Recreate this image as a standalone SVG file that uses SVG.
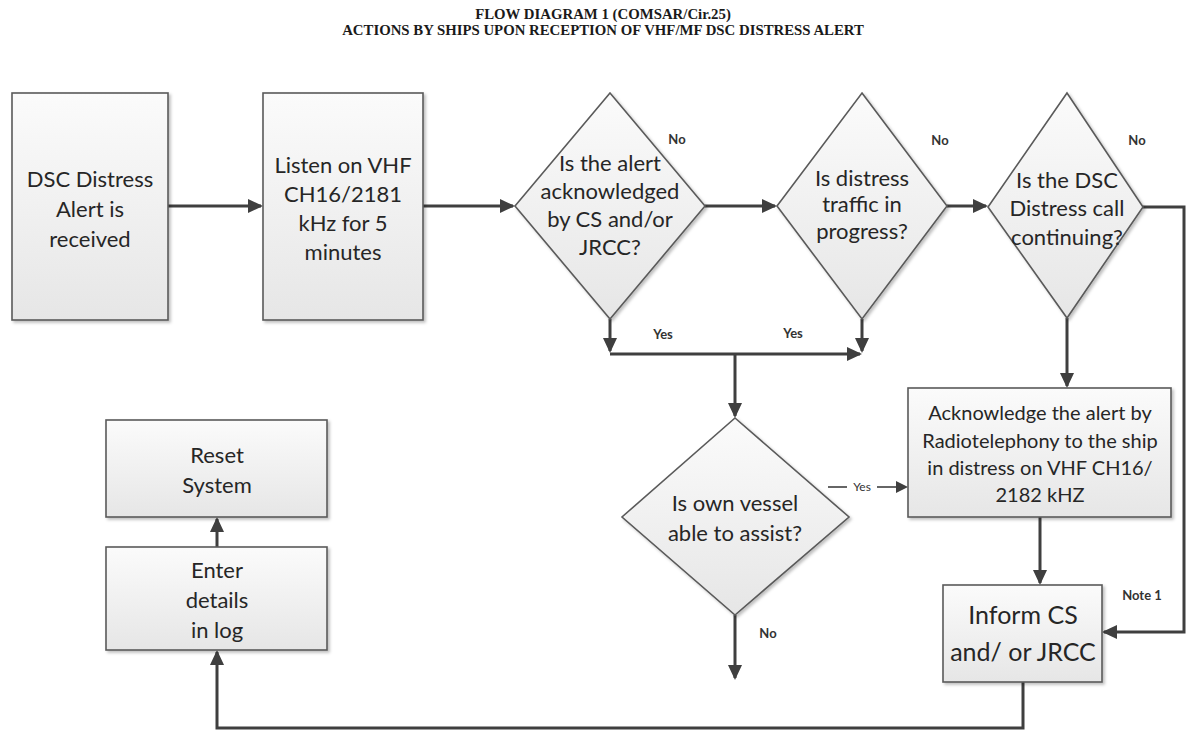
<svg xmlns="http://www.w3.org/2000/svg" width="1187" height="733" viewBox="0 0 1187 733">
  <defs>
    <linearGradient id="shade" x1="0" y1="0" x2="0" y2="1">
      <stop offset="0" stop-color="#fbfbfb"/>
      <stop offset="1" stop-color="#e6e6e6"/>
    </linearGradient>
    <filter id="shadow" x="-10%" y="-10%" width="125%" height="125%">
      <feDropShadow dx="2" dy="2" stdDeviation="1.5" flood-color="#000" flood-opacity="0.25"/>
    </filter>
    <marker id="arrow" markerUnits="userSpaceOnUse" markerWidth="16" markerHeight="14" refX="13" refY="7" orient="auto">
      <path d="M0,0 L15,7 L0,14 z" fill="#3f3f3f"/>
    </marker>
    <marker id="arrowSmall" markerUnits="userSpaceOnUse" markerWidth="12" markerHeight="12" refX="10" refY="6" orient="auto">
      <path d="M0,0 L12,6 L0,12 z" fill="#3f3f3f"/>
    </marker>
  </defs>
  <style>
    .shape { fill: url(#shade); stroke: #5a5a5a; stroke-width: 1.6; filter: url(#shadow); }
    .txt { font-family: Lato, "Noto Sans", sans-serif; font-size: 22px; fill: #262626; text-anchor: middle; }
    .ack { font-size: 20px; }
    .inform { font-size: 25px; }
    .lbl { font-family: Lato, "Noto Sans", sans-serif; font-size: 13px; font-weight: bold; fill: #333; text-anchor: middle; }
    .inline { font-family: Lato, "Noto Sans", sans-serif; font-size: 12px; fill: #333; text-anchor: middle; }
    .title { font-family: "Liberation Serif", "Times New Roman", serif; font-size: 14.8px; font-weight: bold; fill: #1a1a1a; text-anchor: middle; }
    .conn { fill: none; stroke: #3f3f3f; stroke-width: 3; }
    .thin { fill: none; stroke: #3f3f3f; stroke-width: 1.6; }
  </style>

  <rect width="1187" height="733" fill="#ffffff"/>

  <g id="title">
    <text class="title" x="603" y="19">FLOW DIAGRAM 1 (COMSAR/Cir.25)</text>
    <text class="title" x="603" y="35">ACTIONS BY SHIPS UPON RECEPTION OF VHF/MF DSC DISTRESS ALERT</text>
  </g>

  <!-- connectors -->
  <g id="connectors">
    <path class="conn" d="M168,206 H261" marker-end="url(#arrow)"/>
    <path class="conn" d="M423,206 H513" marker-end="url(#arrow)"/>
    <path class="conn" d="M705,206 H775" marker-end="url(#arrow)"/>
    <path class="conn" d="M947,206 H986" marker-end="url(#arrow)"/>
    <path class="conn" d="M1143,207 H1184 V632 H1104" marker-end="url(#arrow)"/>
    <path class="conn" d="M610,319 V351" marker-end="url(#arrow)"/>
    <path class="conn" d="M862,319 V351" marker-end="url(#arrow)"/>
    <path class="conn" d="M610,354 H860" marker-end="url(#arrow)"/>
    <path class="conn" d="M735,354 V416" marker-end="url(#arrow)"/>
    <path class="thin" d="M828,487 H847"/>
    <path class="thin" d="M877,487 H906" marker-end="url(#arrowSmall)"/>
    <path class="conn" d="M735,615 V678" marker-end="url(#arrow)"/>
    <path class="conn" d="M1067,318 V386" marker-end="url(#arrow)"/>
    <path class="conn" d="M1040,517 V583" marker-end="url(#arrow)"/>
    <path class="conn" d="M1023,682 V728 H217 V652" marker-end="url(#arrow)"/>
    <path class="conn" d="M217,547 V519" marker-end="url(#arrow)"/>
  </g>

  <g id="alert-received">
    <rect class="shape" x="12" y="93" width="156" height="227"/>
    <text class="txt" x="90" y="187">DSC Distress</text>
    <text class="txt" x="90" y="217">Alert is</text>
    <text class="txt" x="90" y="247">received</text>
  </g>

  <g id="listen">
    <rect class="shape" x="263" y="93" width="160" height="227"/>
    <text class="txt" x="343" y="173">Listen on VHF</text>
    <text class="txt" x="343" y="202">CH16/2181</text>
    <text class="txt" x="343" y="231">kHz for 5</text>
    <text class="txt" x="343" y="260">minutes</text>
  </g>

  <g id="acknowledged">
    <polygon class="shape" points="610,93 705,206 610,319 515,206"/>
    <text class="txt" x="610" y="171">Is the alert</text>
    <text class="txt" x="610" y="199">acknowledged</text>
    <text class="txt" x="610" y="227">by CS and/or</text>
    <text class="txt" x="610" y="255">JRCC?</text>
    <text class="lbl" x="677" y="144">No</text>
  </g>

  <g id="traffic">
    <polygon class="shape" points="862,93 947,206 862,319 777,206"/>
    <text class="txt" x="862" y="186">Is distress</text>
    <text class="txt" x="862" y="212">traffic in</text>
    <text class="txt" x="862" y="239">progress?</text>
    <text class="lbl" x="940" y="145">No</text>
  </g>

  <g id="continuing">
    <polygon class="shape" points="1067,93 1143,207 1067,318 988,207"/>
    <text class="txt" x="1067" y="188">Is the DSC</text>
    <text class="txt" x="1067" y="216">Distress call</text>
    <text class="txt" x="1067" y="245">continuing?</text>
    <text class="lbl" x="1137" y="145">No</text>
  </g>

  <g id="yes-labels">
    <text class="lbl" x="663" y="339">Yes</text>
    <text class="lbl" x="793" y="338">Yes</text>
  </g>

  <g id="assist">
    <polygon class="shape" points="735,418 849,517 735,615 622,517"/>
    <text class="txt" x="735" y="511">Is own vessel</text>
    <text class="txt" x="735" y="541">able to assist?</text>
    <text class="lbl" x="768" y="638">No</text>
    <text class="inline" x="862" y="491">Yes</text>
  </g>

  <g id="acknowledge-alert">
    <rect class="shape" x="908" y="388" width="263" height="129"/>
    <text class="txt ack" x="1040" y="420">Acknowledge the alert by</text>
    <text class="txt ack" x="1040" y="448">Radiotelephony to the ship</text>
    <text class="txt ack" x="1040" y="475">in distress on VHF CH16/</text>
    <text class="txt ack" x="1040" y="502">2182 kHZ</text>
  </g>

  <g id="inform">
    <rect class="shape" x="943" y="585" width="159" height="97"/>
    <text class="txt inform" x="1023" y="624">Inform CS</text>
    <text class="txt inform" x="1023" y="661">and/ or JRCC</text>
    <text class="lbl" x="1142" y="600">Note 1</text>
  </g>

  <g id="reset">
    <rect class="shape" x="106" y="420" width="221" height="97"/>
    <text class="txt" x="217" y="463">Reset</text>
    <text class="txt" x="217" y="493">System</text>
  </g>

  <g id="log">
    <rect class="shape" x="106" y="547" width="221" height="103"/>
    <text class="txt" x="217" y="578">Enter</text>
    <text class="txt" x="217" y="608">details</text>
    <text class="txt" x="217" y="638">in log</text>
  </g>
</svg>
